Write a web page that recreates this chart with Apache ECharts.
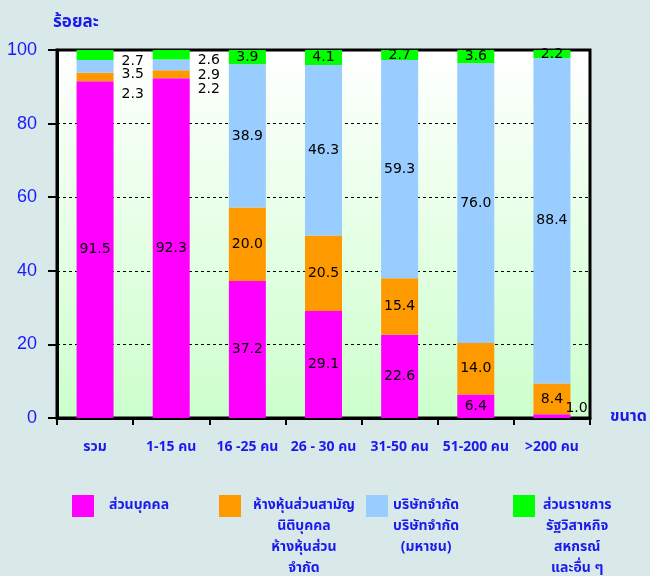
<!DOCTYPE html>
<html>
<head>
<meta charset="utf-8">
<script src="https://cdn.jsdelivr.net/npm/echarts@6/dist/echarts.min.js"></script>
<style>
html,body{margin:0;padding:0;background:#d9e8e8;}
#c{width:650px;height:576px;}
</style>
</head>
<body>
<div id="c"></div>
<script>
// ---- data ----
const categories = ['รวม', '1-15 คน', '16 -25 คน', '26 - 30 คน', '31-50 คน', '51-200 คน', '>200 คน'];
const individual = [91.5, 92.3, 37.2, 29.1, 22.6, 6.4, 1.0];      // ส่วนบุคคล
const partnership = [2.3, 2.2, 20.0, 20.5, 15.4, 14.0, 8.4];      // ห้างหุ้นส่วน
const company = [3.5, 2.9, 38.9, 46.3, 59.3, 76.0, 88.4];         // บริษัทจำกัด
const other = [2.7, 2.6, 3.9, 4.1, 2.7, 3.6, 2.2];                // ส่วนราชการ ฯลฯ
const yTicks = [0, 20, 40, 60, 80, 100];
const seriesNames = ['ส่วนบุคคล', 'ห้างหุ้นส่วนสามัญ\nนิติบุคคล\nห้างหุ้นส่วน\nจำกัด', 'บริษัทจำกัด\nบริษัทจำกัด\n(มหาชน)', 'ส่วนราชการ\nรัฐวิสาหกิจ\nสหกรณ์\nและอื่น ๆ'];

const BLUE = '#1a1aee';
const THAI = 'Tahoma, "Noto Sans Thai", "Noto Sans", "DejaVu Sans", sans-serif';
const NUM = '"DejaVu Sans", sans-serif';
const colors = ['#ff00ff', '#ff9900', '#99ccff', '#00ff00'];

// labels beside the first two bars: vertical offset per series
const sideOffsets = [null, [17, 15], [8, 10], [6, 6]];

function buildData(values, sIdx) {
  return values.map((v, i) => {
    const item = { value: v };
    if (i < 2 && sideOffsets[sIdx]) {
      item.label = { position: 'right', distance: 8, offset: [0, sideOffsets[sIdx][i]] };
    }
    if (i === 6 && sIdx === 0) {
      item.label = { position: 'right', distance: -5, offset: [0, -8] };
    }
    return item;
  });
}

const allValues = [individual, partnership, company, other];
const series = allValues.map((vals, sIdx) => ({
  name: seriesNames[sIdx],
  type: 'bar',
  stack: 'total',
  barWidth: 37,
  itemStyle: { color: colors[sIdx] },
  label: {
    show: true,
    position: 'inside',
    color: '#000',
    fontFamily: NUM,
    fontSize: 14,
    formatter: p => p.value.toFixed(1)
  },
  data: buildData(vals, sIdx)
}));

const legendLeft = [67, 214, 361, 508];
const legendPadLeft = [10, 7, 0, 3];
const LH = 21;
const legends = seriesNames.map((name, i) => {
  const n = name.split('\n').length;
  return {
    data: [name],
    left: legendLeft[i],
    top: 490,
    orient: 'vertical',
    itemWidth: 22,
    itemHeight: 22,
    icon: 'rect',
    selectedMode: false,
    formatter: nm => nm.split('\n').map(l => '{a|' + l + '}').join('\n'),
    textStyle: {
      color: BLUE,
      fontFamily: THAI,
      fontSize: 14,
      padding: [(n - 1) * LH, 0, 0, legendPadLeft[i]],
      rich: { a: { align: 'center', color: BLUE, fontFamily: THAI, fontSize: 14, fontWeight: 'bold', lineHeight: LH } }
    }
  };
});

const chart = echarts.init(document.getElementById('c'), null, { renderer: 'canvas' });
chart.setOption({
  backgroundColor: '#d9e8e8',
  animation: false,
  legend: legends,
  grid: {
    left: 57, right: 60, top: 50, bottom: 158,
    show: true,
    borderColor: '#000',
    borderWidth: 3,
    backgroundColor: new echarts.graphic.LinearGradient(0, 0, 0, 1, [
      { offset: 0, color: '#ffffff' },
      { offset: 1, color: '#ccffcc' }
    ])
  },
  xAxis: {
    type: 'category',
    data: categories,
    name: 'ขนาด',
    nameLocation: 'end',
    nameGap: 20,
    nameTextStyle: { color: BLUE, fontFamily: THAI, fontSize: 16, fontWeight: 'bold', verticalAlign: 'middle', padding: [0, 0, 22, 0] },
    axisLine: { lineStyle: { color: '#000', width: 3 } },
    axisTick: { show: true, interval: 0, length: 7, lineStyle: { color: '#000', width: 2 } },
    axisLabel: { interval: 0, color: BLUE, fontFamily: THAI, fontSize: 14, fontWeight: 'bold', margin: 23 }
  },
  yAxis: {
    type: 'value',
    min: 0, max: 100, interval: 20,
    name: 'ร้อยละ',
    nameLocation: 'end',
    nameGap: 18,
    nameTextStyle: { color: BLUE, fontFamily: THAI, fontSize: 17, fontWeight: 'bold', align: 'left', padding: [0, 0, 0, -4] },
    axisLine: { show: true, lineStyle: { color: '#000', width: 3 } },
    axisTick: { show: true, length: 9, lineStyle: { color: '#000', width: 2 } },
    axisLabel: { color: '#1a1aff', fontFamily: '"Liberation Sans", Arial, sans-serif', fontSize: 18, margin: 20,
      padding: [5, 0, 0, 0],
      formatter: v => yTicks.includes(v) ? String(v) : '' },
    splitLine: { show: true, lineStyle: { color: '#000', width: 1, type: [3, 3] } }
  },
  series: series
});
</script>
</body>
</html>
